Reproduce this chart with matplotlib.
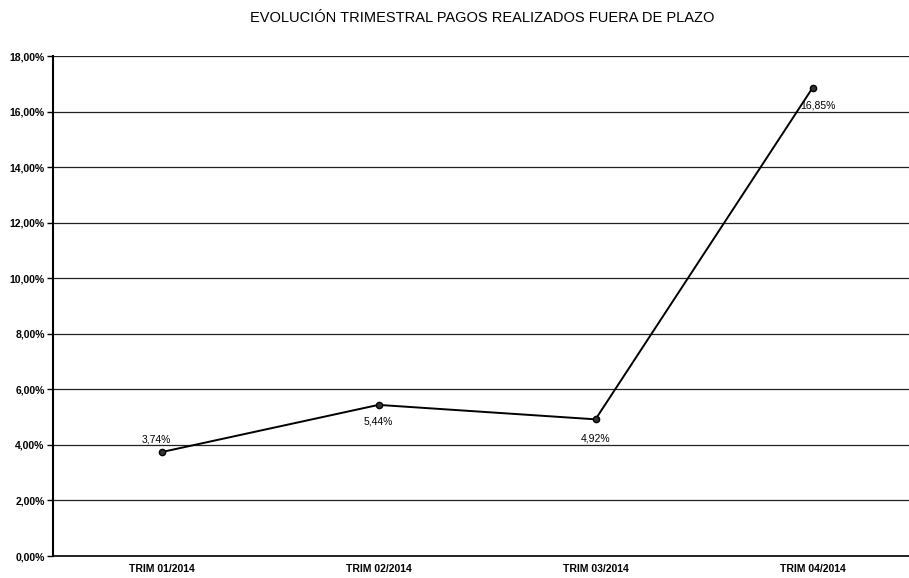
import matplotlib.pyplot as plt
from matplotlib.ticker import FuncFormatter

plt.rcParams['font.family'] = ['Liberation Sans', 'DejaVu Sans']

# Data
trimestres = ['TRIM 01/2014', 'TRIM 02/2014', 'TRIM 03/2014', 'TRIM 04/2014']
pagos_fuera_plazo = [3.74, 5.44, 4.92, 16.85]
etiquetas = ['3,74%', '5,44%', '4,92%', '16,85%']
y_ticks = [0, 2, 4, 6, 8, 10, 12, 14, 16, 18]

fig = plt.figure(figsize=(9.09, 5.78), dpi=100)
ax = fig.add_axes([53 / 909, 22 / 578, (909 - 53) / 909, 500 / 578])

x = list(range(len(trimestres)))
ax.plot(x, pagos_fuera_plazo, color='black', linewidth=1.4, marker='o',
        markersize=4.5, markerfacecolor='#333333', markeredgecolor='black', zorder=3)

# Data labels
offsets = [(-4, 9), (0, -12), (0, -14), (4, -13)]
for xi, yi, lab, (dx, dy) in zip(x, pagos_fuera_plazo, etiquetas, offsets):
    ax.annotate(lab, (xi, yi), xytext=(dx, dy), textcoords='offset points',
                ha='center', va='center', fontsize=7.5)

ax.set_ylim(0, 18)
ax.set_yticks(y_ticks)
ax.yaxis.set_major_formatter(FuncFormatter(lambda v, p: f'{v:.2f}%'.replace('.', ',')))
ax.set_xlim(-0.5, -0.5 + (909 - 53) / 217)
ax.set_xticks(x)
ax.set_xticklabels(trimestres)

ax.grid(axis='y', color='#222222', linewidth=0.9)
ax.set_axisbelow(True)
for s in ['top', 'right']:
    ax.spines[s].set_visible(False)
ax.spines['left'].set_linewidth(1.5)
ax.spines['bottom'].set_linewidth(1.2)
ax.tick_params(axis='y', length=4, width=1, labelsize=7.5, pad=2)
ax.tick_params(axis='x', length=0, labelsize=7.5, pad=6)
for lab in ax.get_yticklabels() + ax.get_xticklabels():
    lab.set_fontweight('bold')

fig.text(0.53, 0.968, 'EVOLUCIÓN TRIMESTRAL PAGOS REALIZADOS FUERA DE PLAZO',
         ha='center', va='center', fontsize=10.5)

fig.savefig('out.png', dpi=100)
